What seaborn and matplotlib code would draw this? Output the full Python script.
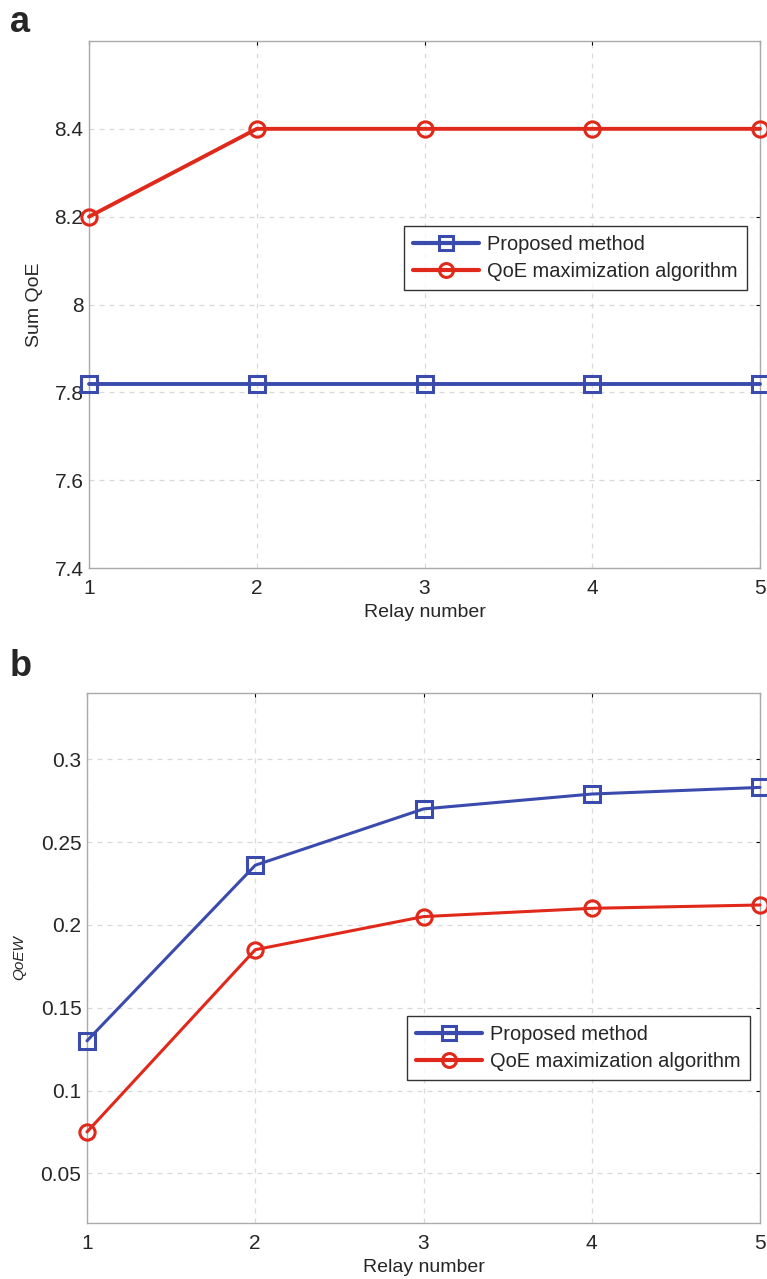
import numpy as np
import pandas as pd
import matplotlib
matplotlib.use('Agg')
import matplotlib.pyplot as plt
import seaborn as sns

relay = [1, 2, 3, 4, 5]
series_names = ['Proposed method', 'QoE maximization algorithm']

# panel a: Sum QoE
sum_qoe_proposed = [7.82, 7.82, 7.82, 7.82, 7.82]
sum_qoe_qoemax = [8.2, 8.4, 8.4, 8.4, 8.4]
# panel b: QoEW
qoew_proposed = [0.130, 0.236, 0.270, 0.279, 0.283]
qoew_qoemax = [0.075, 0.185, 0.205, 0.210, 0.212]

sns.set_style('white')
plt.rcParams['font.family'] = ['Liberation Sans', 'DejaVu Sans']

colors = {'Proposed method': '#3a4bad', 'QoE maximization algorithm': '#e0291b'}
markers = {'Proposed method': 's', 'QoE maximization algorithm': 'o'}

fig = plt.figure(figsize=(7.67, 12.79), dpi=100)
ax_a = fig.add_axes([89 / 767, 1 - 568 / 1279, (760 - 89) / 767, (568 - 41) / 1279])
ax_b = fig.add_axes([87 / 767, 1 - 1223 / 1279, (760 - 87) / 767, (1223 - 693) / 1279])


def draw(ax, a_vals, b_vals, ylim, yticks, ylabel, legend_box, lw, italic=False):
    df = pd.DataFrame({
        'relay': relay * 2,
        'value': a_vals + b_vals,
        'method': [series_names[0]] * 5 + [series_names[1]] * 5,
    })
    sns.lineplot(data=df, x='relay', y='value', hue='method', style='method',
                 palette=colors, markers=markers, dashes=False, ax=ax,
                 linewidth=lw, markersize=11, markeredgewidth=2.2,
                 markerfacecolor='none', clip_on=False, zorder=3)
    for line in ax.lines:
        line.set_markerfacecolor('none')
        line.set_markeredgecolor(line.get_color())
    ax.set_xlim(1, 5)
    ax.set_ylim(*ylim)
    ax.set_xticks(relay)
    ax.set_yticks(yticks)
    ax.set_yticklabels([f'{t:g}' for t in yticks])
    ax.grid(True, linestyle=(0, (4, 4)), color='#d9d9d9', linewidth=0.9)
    for s in ax.spines.values():
        s.set_color('#aaaaaa')
        s.set_linewidth(1.0)
    ax.tick_params(direction='in', length=3, width=0.8, color='black',
                   labelsize=15, top=True, right=True)
    ax.tick_params(axis='x', pad=8)
    ax.tick_params(axis='y', pad=4)
    ax.set_xlabel('Relay number', fontsize=14, labelpad=4)
    if italic:
        ax.set_ylabel(ylabel, fontsize=11, style='italic', labelpad=10)
    else:
        ax.set_ylabel(ylabel, fontsize=14, labelpad=8)
    leg = ax.legend(loc='lower left', bbox_to_anchor=legend_box, fontsize=14.4,
                    frameon=True, fancybox=False, edgecolor='black',
                    handlelength=3.3, borderpad=0.45, labelspacing=0.4,
                    handletextpad=0.4, borderaxespad=0)
    leg.get_frame().set_linewidth(1.0)
    for h in leg.get_lines():
        h.set_linewidth(3)
        h.set_markerfacecolor('none')
        h.set_markersize(10)


draw(ax_a, sum_qoe_proposed, sum_qoe_qoemax, (7.4, 8.6),
     [7.4, 7.6, 7.8, 8.0, 8.2, 8.4], 'Sum QoE',
     ((404 - 89) / 671, (568 - 290) / 527), lw=2.8)
draw(ax_b, qoew_proposed, qoew_qoemax, (0.02, 0.34),
     [0.05, 0.1, 0.15, 0.2, 0.25, 0.3], 'QoEW',
     ((407 - 87) / 673, (1223 - 1080) / 530), lw=2.2, italic=True)

fig.text(10 / 767, 1 - 32 / 1279, 'a', fontsize=26, fontweight='bold')
fig.text(10 / 767, 1 - 676 / 1279, 'b', fontsize=26, fontweight='bold')

plt.savefig('out.png', dpi=100)
plt.close()
